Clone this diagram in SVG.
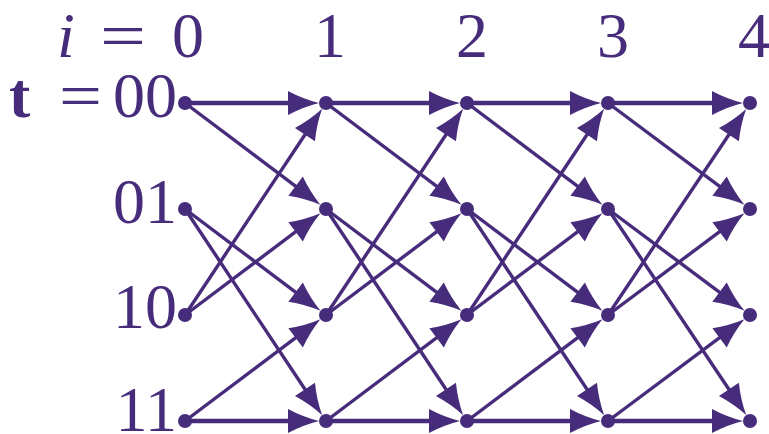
<svg xmlns="http://www.w3.org/2000/svg" width="769" height="434" viewBox="0 0 769 434">
<style>
.lbl{font-family:"Liberation Serif","DejaVu Serif",serif;font-size:64px;fill:#472c7b}
.e{stroke:#472c7b;fill:none;marker-end:url(#ah)}
.h{stroke-width:4.4}
.d{stroke-width:3.4}
.n{fill:#472c7b}
</style>
<defs>
<marker id="ah" markerUnits="userSpaceOnUse" orient="auto" refX="0" refY="0" markerWidth="40" markerHeight="30" overflow="visible">
<path d="M10,0 Q-6,-4 -21,-12 L-21,12 Q-6,4 10,0 Z" fill="#472c7b"/>
</marker>
</defs>
<g id="labels">
<text class="lbl" x="57" y="57" font-style="italic">i</text>
<text class="lbl" x="100" y="57" textLength="46" lengthAdjust="spacingAndGlyphs">=</text>
<text class="lbl" x="188" y="57" text-anchor="middle">0</text>
<text class="lbl" x="330" y="57" text-anchor="middle">1</text>
<text class="lbl" x="472" y="57" text-anchor="middle">2</text>
<text class="lbl" x="613" y="57" text-anchor="middle">3</text>
<text class="lbl" x="754" y="57" text-anchor="middle">4</text>
<text class="lbl" x="9" y="117" font-weight="bold">t</text>
<text class="lbl" x="59" y="117" textLength="43" lengthAdjust="spacingAndGlyphs">=</text>
<text class="lbl" x="177" y="117" text-anchor="end">00</text>
<text class="lbl" x="177" y="223" text-anchor="end">01</text>
<text class="lbl" x="177" y="328" text-anchor="end">10</text>
<text class="lbl" x="177" y="431" text-anchor="end">11</text>
</g>
<g id="connectors">
<path class="e h" d="M185,103 L309,103"/>
<path class="e d" d="M185,103 L312.4,198.8"/>
<path class="e d" d="M185,209 L312.4,304.8"/>
<path class="e d" d="M185,209 L316.6,406.8"/>
<path class="e d" d="M185,315 L316.6,117.2"/>
<path class="e d" d="M185,315 L312.4,219.2"/>
<path class="e d" d="M185,421 L312.4,325.2"/>
<path class="e h" d="M185,421 L309,421"/>

<path class="e h" d="M326,103 L450,103"/>
<path class="e d" d="M326,103 L453.4,198.8"/>
<path class="e d" d="M326,209 L453.4,304.8"/>
<path class="e d" d="M326,209 L457.6,406.8"/>
<path class="e d" d="M326,315 L457.6,117.2"/>
<path class="e d" d="M326,315 L453.4,219.2"/>
<path class="e d" d="M326,421 L453.4,325.2"/>
<path class="e h" d="M326,421 L450,421"/>

<path class="e h" d="M467,103 L591,103"/>
<path class="e d" d="M467,103 L594.4,198.8"/>
<path class="e d" d="M467,209 L594.4,304.8"/>
<path class="e d" d="M467,209 L598.6,406.8"/>
<path class="e d" d="M467,315 L598.6,117.2"/>
<path class="e d" d="M467,315 L594.4,219.2"/>
<path class="e d" d="M467,421 L594.4,325.2"/>
<path class="e h" d="M467,421 L591,421"/>

<path class="e h" d="M608,103 L733,103"/>
<path class="e d" d="M608,103 L736.4,198.8"/>
<path class="e d" d="M608,209 L736.4,304.8"/>
<path class="e d" d="M608,209 L740.6,406.8"/>
<path class="e d" d="M608,315 L740.6,117.2"/>
<path class="e d" d="M608,315 L736.4,219.2"/>
<path class="e d" d="M608,421 L736.4,325.2"/>
<path class="e h" d="M608,421 L733,421"/>
</g>
<g id="n0_00"><circle class="n" cx="185" cy="103" r="7"/></g>
<g id="n0_01"><circle class="n" cx="185" cy="209" r="7"/></g>
<g id="n0_10"><circle class="n" cx="185" cy="315" r="7"/></g>
<g id="n0_11"><circle class="n" cx="185" cy="421" r="7"/></g>
<g id="n1_00"><circle class="n" cx="326" cy="103" r="7"/></g>
<g id="n1_01"><circle class="n" cx="326" cy="209" r="7"/></g>
<g id="n1_10"><circle class="n" cx="326" cy="315" r="7"/></g>
<g id="n1_11"><circle class="n" cx="326" cy="421" r="7"/></g>
<g id="n2_00"><circle class="n" cx="467" cy="103" r="7"/></g>
<g id="n2_01"><circle class="n" cx="467" cy="209" r="7"/></g>
<g id="n2_10"><circle class="n" cx="467" cy="315" r="7"/></g>
<g id="n2_11"><circle class="n" cx="467" cy="421" r="7"/></g>
<g id="n3_00"><circle class="n" cx="608" cy="103" r="7"/></g>
<g id="n3_01"><circle class="n" cx="608" cy="209" r="7"/></g>
<g id="n3_10"><circle class="n" cx="608" cy="315" r="7"/></g>
<g id="n3_11"><circle class="n" cx="608" cy="421" r="7"/></g>
<g id="n4_00"><circle class="n" cx="750" cy="103" r="7"/></g>
<g id="n4_01"><circle class="n" cx="750" cy="209" r="7"/></g>
<g id="n4_10"><circle class="n" cx="750" cy="315" r="7"/></g>
<g id="n4_11"><circle class="n" cx="750" cy="421" r="7"/></g>
</svg>
